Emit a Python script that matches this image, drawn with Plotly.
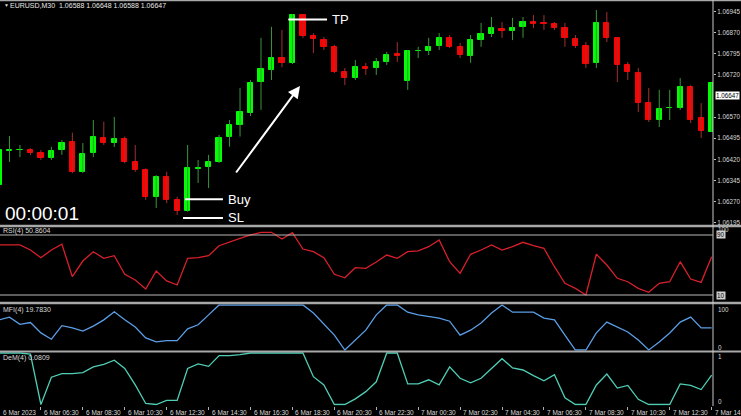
import plotly.graph_objects as go

# ---------------- data ----------------
bar_index = list(range(69))
time_tick_index = [0, 4, 8, 12, 16, 20, 24, 28, 32, 36, 40, 44, 48, 52, 56, 60, 64, 68]
time_tick_labels = ["6 Mar 2023", "6 Mar 06:30", "6 Mar 08:30", "6 Mar 10:30", "6 Mar 12:30",
                    "6 Mar 14:30", "6 Mar 16:30", "6 Mar 18:30", "6 Mar 20:30", "6 Mar 22:30",
                    "7 Mar 00:30", "7 Mar 02:30", "7 Mar 04:30", "7 Mar 06:30", "7 Mar 08:30",
                    "7 Mar 10:30", "7 Mar 12:30", "7 Mar 14:30"]

open_ = [1.06329, 1.06450, 1.06452, 1.06453, 1.06443, 1.06426, 1.06453, 1.06483, 1.06376, 1.06443,
         1.06496, 1.06478, 1.06492, 1.06412, 1.06382, 1.06285, 1.06358, 1.06276, 1.06238, 1.06387,
         1.06393, 1.06411, 1.06500, 1.06542, 1.06585, 1.06695, 1.06738, 1.06780, 1.06763, 1.06933,
         1.06859, 1.06844, 1.06820, 1.06731, 1.06709, 1.06748, 1.06745, 1.06766, 1.06795, 1.06699,
         1.06804, 1.06805, 1.06823, 1.06852, 1.06820, 1.06788, 1.06844, 1.06866, 1.06884, 1.06876,
         1.06891, 1.06908, 1.06905, 1.06901, 1.06887, 1.06848, 1.06823, 1.06763, 1.06905, 1.06852,
         1.06756, 1.06727, 1.06620, 1.06560, 1.06601, 1.06603, 1.06677, 1.06567, 1.06517]
high = [1.06464, 1.06503, 1.06471, 1.06460, 1.06453, 1.06465, 1.06489, 1.06515, 1.06478, 1.06560,
        1.06554, 1.06571, 1.06501, 1.06471, 1.06388, 1.06364, 1.06376, 1.06287, 1.06471, 1.06418,
        1.06436, 1.06507, 1.06560, 1.06674, 1.06702, 1.06852, 1.06891, 1.06880, 1.06937, 1.06937,
        1.06869, 1.06855, 1.06827, 1.06745, 1.06773, 1.06763, 1.06780, 1.06802, 1.06837, 1.06809,
        1.06820, 1.06852, 1.06869, 1.06862, 1.06834, 1.06862, 1.06905, 1.06926, 1.06908, 1.06923,
        1.06926, 1.06933, 1.06933, 1.06908, 1.06905, 1.06862, 1.06837, 1.06951, 1.06944, 1.06855,
        1.06766, 1.06745, 1.06674, 1.06667, 1.06667, 1.06709, 1.06684, 1.06620, 1.06692]
low = [1.06318, 1.06411, 1.06428, 1.06436, 1.06418, 1.06418, 1.06436, 1.06371, 1.06372, 1.06428,
       1.06471, 1.06464, 1.06406, 1.06376, 1.06276, 1.06247, 1.06264, 1.06222, 1.06234, 1.06336,
       1.06318, 1.06407, 1.06465, 1.06501, 1.06574, 1.06596, 1.06702, 1.06748, 1.06759, 1.06852,
       1.06798, 1.06809, 1.06727, 1.06684, 1.06702, 1.06720, 1.06720, 1.06756, 1.06766, 1.06667,
       1.06780, 1.06791, 1.06809, 1.06816, 1.06780, 1.06763, 1.06820, 1.06855, 1.06852, 1.06844,
       1.06852, 1.06887, 1.06880, 1.06880, 1.06820, 1.06816, 1.06745, 1.06745, 1.06837, 1.06695,
       1.06702, 1.06588, 1.06553, 1.06535, 1.06560, 1.06596, 1.06549, 1.06496, 1.06517]
close = [1.06453, 1.06452, 1.06453, 1.06443, 1.06425, 1.06451, 1.06479, 1.06376, 1.06439, 1.06500,
         1.06478, 1.06492, 1.06411, 1.06382, 1.06286, 1.06358, 1.06276, 1.06238, 1.06389, 1.06389,
         1.06411, 1.06496, 1.06542, 1.06590, 1.06692, 1.06741, 1.06780, 1.06763, 1.06933, 1.06859,
         1.06848, 1.06820, 1.06731, 1.06709, 1.06748, 1.06741, 1.06766, 1.06791, 1.06788, 1.06805,
         1.06805, 1.06820, 1.06852, 1.06820, 1.06791, 1.06844, 1.06866, 1.06887, 1.06876, 1.06887,
         1.06908, 1.06901, 1.06901, 1.06887, 1.06852, 1.06823, 1.06759, 1.06905, 1.06852, 1.06756,
         1.06731, 1.06620, 1.06560, 1.06599, 1.06603, 1.06677, 1.06560, 1.06521, 1.06692]

rsi = [76.7, 76.7, 76.7, 70.0, 59.7, 70.0, 77.6, 34.4, 55.3, 67.7,
       58.9, 62.4, 37.6, 30.0, 18.0, 42.0, 28.7, 23.3, 58.9, 59.7,
       62.4, 75.7, 81.0, 85.6, 90.0, 93.6, 93.6, 84.7, 93.0, 71.3,
       67.7, 59.7, 37.6, 33.0, 46.4, 45.6, 54.0, 63.3, 58.9, 67.7,
       68.7, 74.4, 83.3, 54.4, 38.9, 64.3, 70.0, 76.7, 70.0, 74.4,
       80.3, 75.7, 72.3, 47.7, 25.6, 18.9, 10.0, 64.3, 50.0, 32.3,
       27.7, 18.9, 13.6, 25.6, 27.7, 54.4, 31.3, 26.9, 61.0]
mfi = [67, 73, 57, 61, 38, 24, 54, 49, 42, 53,
       67, 85, 67, 51, 27, 18, 21, 21, 47, 56,
       78, 100, 100, 100, 100, 100, 100, 100, 100, 100,
       82, 58, 33, 0, 22, 44, 78, 100, 100, 84,
       78, 75, 71, 64, 33, 44, 60, 82, 100, 84,
       84, 84, 71, 67, 33, 0, 0, 38, 62, 51,
       40, 22, 0, 18, 38, 62, 73, 49, 49]
dem = [1.00, 1.00, 1.00, 0.98, 0.00, 0.53, 0.60, 0.60, 0.62, 0.73,
       0.78, 0.86, 0.70, 0.38, 0.02, 0.00, 0.08, 0.08, 0.70, 0.79,
       0.74, 0.95, 0.95, 0.97, 1.00, 1.00, 1.00, 1.00, 1.00, 1.00,
       0.54, 0.38, 0.00, 0.00, 0.11, 0.25, 0.44, 1.00, 1.00, 0.40,
       0.40, 0.48, 0.38, 0.73, 0.51, 0.42, 0.51, 0.70, 0.89, 0.71,
       0.67, 0.56, 0.46, 0.58, 0.13, 0.00, 0.00, 0.38, 0.59, 0.32,
       0.37, 0.10, 0.00, 0.00, 0.00, 0.40, 0.37, 0.29, 0.57]

price_ticks = [1.06195, 1.06270, 1.06345, 1.06420, 1.06495, 1.06570, 1.06720, 1.06795, 1.06870, 1.06945]
current_price = 1.06647
rsi_levels = [90, 10]
title_text = "EURUSD,M30  1.06588 1.06648 1.06588 1.06647"
rsi_label = "RSI(4) 50.8604"
mfi_label = "MFI(4) 19.7830"
dem_label = "DeM(4) 0.0809"
timer_text = "00:00:01"

tp_price, buy_price, sl_price = 1.06917, 1.06278, 1.06212
tp_span, buy_span, sl_span = (27.6, 31.3), (17.75, 21.37), (17.56, 21.37)
arrow_from = (22.52, 1.06368)
arrow_to = (28.72, 1.06681)

# ---------------- styling ----------------
GREEN, RED = "#00ff00", "#ff0000"
WICK_UP, WICK_DN = "#3c963c", "#a33030"
TXT = "#d8d8d8"
SEP = "#a8a8a8"
FONT = "Liberation Sans"
H = 406.0  # plot-area height in px
X0 = 0.0954
X1 = 68.13


def py(px):
    return (H - px) / H


fig = go.Figure()

# wicks
up = [i for i in bar_index if close[i] >= open_[i]]
dn = [i for i in bar_index if close[i] < open_[i]]
for idxs, col in ((up, WICK_UP), (dn, WICK_DN)):
    wx, wy = [], []
    for i in idxs:
        wx += [i, i, None]
        wy += [low[i], high[i], None]
    fig.add_trace(go.Scatter(x=wx, y=wy, mode="lines", line=dict(color=col, width=1),
                             hoverinfo="skip", showlegend=False, xaxis="x", yaxis="y"))

# bodies
for idxs, col in ((up, GREEN), (dn, RED)):
    fig.add_trace(go.Bar(x=idxs,
                         base=[min(open_[i], close[i]) for i in idxs],
                         y=[abs(close[i] - open_[i]) for i in idxs],
                         width=0.5, marker=dict(color=col, line=dict(color=col, width=1)),
                         showlegend=False, xaxis="x", yaxis="y"))

fig.add_trace(go.Scatter(x=bar_index, y=rsi, mode="lines", line=dict(color="#d8202a", width=1.3),
                         showlegend=False, xaxis="x", yaxis="y2"))
fig.add_trace(go.Scatter(x=bar_index, y=mfi, mode="lines", line=dict(color="#5b9ee6", width=1.3),
                         showlegend=False, xaxis="x", yaxis="y3"))
fig.add_trace(go.Scatter(x=bar_index, y=dem, mode="lines", line=dict(color="#4fcdb5", width=1.3),
                         showlegend=False, xaxis="x", yaxis="y4"))

ax_common = dict(showgrid=False, zeroline=False, showline=False)
fig.update_layout(
    width=741, height=416,
    margin=dict(l=0, r=28, t=0, b=10, autoexpand=False),
    paper_bgcolor="black", plot_bgcolor="black",
    barmode="overlay", bargap=0,
    font=dict(family=FONT, color=TXT, size=7),
    xaxis=dict(range=[X0, X1], anchor="y4", tickvals=time_tick_index,
               showticklabels=False, ticks="outside", ticklen=3, tickcolor="#b0b0b0",
               automargin=False, **ax_common),
    yaxis=dict(domain=[py(225), py(1)], range=[1.061867, 1.06983], side="right", anchor="x",
               tickvals=price_ticks, ticktext=["%.5f" % v for v in price_ticks],
               ticks="outside", ticklen=2, tickcolor="#c0c0c0", automargin=False,
               tickfont=dict(size=6.3, color=TXT), **ax_common),
    yaxis2=dict(domain=[py(302.5), py(227.5)], range=[0, 100], anchor="x",
                showticklabels=False, **ax_common),
    yaxis3=dict(domain=[py(350.7), py(304.3)], range=[-1.5, 101.5], anchor="x",
                showticklabels=False, **ax_common),
    yaxis4=dict(domain=[py(405.5), py(352)], range=[-0.0194, 1.0194], anchor="x",
                showticklabels=False, **ax_common),
)

shapes = []
# panel separators and borders
for px, w in ((0.5, 1.5), (226, 2.5), (303, 2.5), (351.5, 2)):
    shapes.append(dict(type="line", xref="paper", yref="paper", x0=0, x1=741 / 713,
                       y0=py(px), y1=py(px), line=dict(color=SEP, width=w)))
shapes.append(dict(type="line", xref="paper", yref="paper", x0=1, x1=1, y0=0, y1=1,
                   line=dict(color="#c8c8c8", width=1)))
for lv in rsi_levels:
    shapes.append(dict(type="line", xref="paper", yref="y2", x0=0, x1=1, y0=lv, y1=lv,
                       line=dict(color="#b8b8b8", width=1)))
# trade markers
for (x0, x1), pr in ((tp_span, tp_price), (buy_span, buy_price), (sl_span, sl_price)):
    shapes.append(dict(type="line", xref="x", yref="y", x0=x0, x1=x1, y0=pr, y1=pr,
                       line=dict(color="white", width=2)))
fig.update_layout(shapes=shapes)

ann = []
ann.append(dict(x=arrow_to[0], y=arrow_to[1], ax=arrow_from[0], ay=arrow_from[1],
                xref="x", yref="y", axref="x", ayref="y", text="", showarrow=True,
                arrowhead=2, arrowsize=1.2, arrowwidth=2, arrowcolor="white"))
for (x0, x1), pr, t in ((tp_span, tp_price, "TP"), (buy_span, buy_price, "Buy"),
                         (sl_span, sl_price, "SL")):
    ann.append(dict(x=x1, y=pr, xref="x", yref="y", text=t, showarrow=False,
                    xanchor="left", yanchor="middle", xshift=3,
                    font=dict(size=13, color="white", family=FONT)))
ann.append(dict(x=3 / 713, y=py(213.5), xref="paper", yref="paper", text=timer_text,
                showarrow=False, xanchor="left", yanchor="middle",
                font=dict(size=19, color="white", family=FONT)))
ann.append(dict(x=2 / 713, y=py(5), xref="paper", yref="paper", text="\u25bc",
                showarrow=False, xanchor="left", yanchor="middle", font=dict(size=5, color=TXT)))
ann.append(dict(x=8 / 713, y=py(5), xref="paper", yref="paper", text=title_text,
                showarrow=False, xanchor="left", yanchor="middle",
                font=dict(size=7, color="#e8e8e8")))
for txt, px in ((rsi_label, 231.5), (mfi_label, 310), (dem_label, 357.5)):
    ann.append(dict(x=1 / 713, y=py(px), xref="paper", yref="paper", text=txt,
                    showarrow=False, xanchor="left", yanchor="middle", font=dict(size=7, color=TXT)))
# current price box
ann.append(dict(x=1, y=current_price, xref="paper", yref="y", text="%.5f" % current_price,
                showarrow=False, xanchor="left", yanchor="middle", xshift=2,
                bgcolor="white", borderpad=0, font=dict(size=6.3, color="black")))
# sub-window scale labels
for txt, px in (("100", 229.5), ("100", 309), ("0", 347), ("1", 356), ("0", 401)):
    ann.append(dict(x=1, y=py(px), xref="paper", yref="paper", text=txt, showarrow=False,
                    xanchor="left", yanchor="middle", xshift=3, font=dict(size=6.3, color=TXT)))
for lv in rsi_levels:
    ann.append(dict(x=1, y=lv, xref="paper", yref="y2", text=str(lv), showarrow=False,
                    xanchor="left", yanchor="middle", xshift=3, bgcolor="#d0d0d0",
                    borderpad=0, font=dict(size=6.3, color="black")))
# time labels (anchored at their tick on the bar axis; first one sits at the left edge)
for tv, tl in zip(time_tick_index, time_tick_labels):
    xv = max((tv - X0) / (X1 - X0), 0)
    ann.append(dict(x=xv, y=0, xref="paper", yref="paper", text=tl, showarrow=False,
                    xanchor="left", yanchor="top", xshift=1, yshift=-1,
                    font=dict(size=6.5, color=TXT)))
fig.update_layout(annotations=ann)

fig.write_html("out.html", config={"displayModeBar": False},
               post_script="document.body.style.margin='0';document.body.style.overflow='hidden';")
